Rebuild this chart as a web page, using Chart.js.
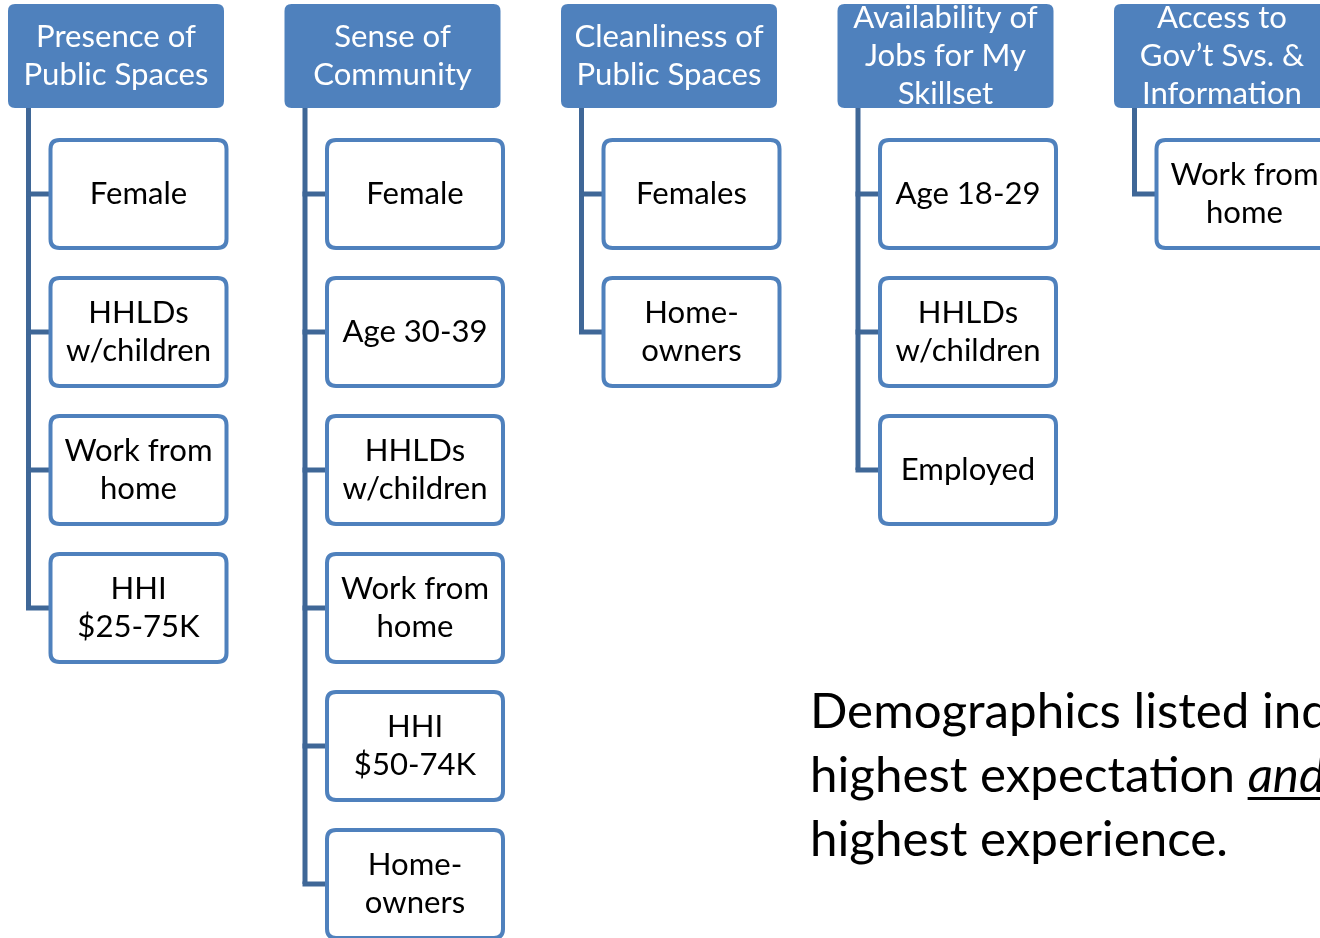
<!DOCTYPE html>
<html>
<head>
<meta charset="utf-8">
<script src="https://cdn.jsdelivr.net/npm/chart.js@4/dist/chart.umd.min.js"></script>
<style>
  html, body { margin: 0; padding: 0; background: #fff; overflow: hidden; }
  #tree { display: block; }
</style>
</head>
<body>
<canvas id="tree" width="1320" height="938"></canvas>
<script>
// Column headers (one per attribute)
const headers = [
  "Presence of\nPublic Spaces",
  "Sense of\nCommunity",
  "Cleanliness of\nPublic Spaces",
  "Availability of\nJobs for My\nSkillset",
  "Access to\nGov’t Svs. &\nInformation"
];

// Demographics under each header
const presenceItems = ["Female", "HHLDs\nw/children", "Work from\nhome", "HHI\n$25-75K"];
const communityItems = ["Female", "Age 30-39", "HHLDs\nw/children", "Work from\nhome", "HHI\n$50-74K", "Home-\nowners"];
const cleanlinessItems = ["Females", "Home-\nowners"];
const jobsItems = ["Age 18-29", "HHLDs\nw/children", "Employed"];
const govItems = ["Work from\nhome"];

const groups = [presenceItems, communityItems, cleanlinessItems, jobsItems, govItems];

const noteLines = ["Demographics listed indicate", "highest expectation and", "highest experience."];

const FONT = "Lato, 'Open Sans', sans-serif";
const BLUE = "#4f81bd";
const LINK = "#3f6797";

function rrect(ctx, x, y, w, h, r) {
  ctx.beginPath();
  ctx.moveTo(x + r, y);
  ctx.lineTo(x + w - r, y);
  ctx.quadraticCurveTo(x + w, y, x + w, y + r);
  ctx.lineTo(x + w, y + h - r);
  ctx.quadraticCurveTo(x + w, y + h, x + w - r, y + h);
  ctx.lineTo(x + r, y + h);
  ctx.quadraticCurveTo(x, y + h, x, y + h - r);
  ctx.lineTo(x, y + r);
  ctx.quadraticCurveTo(x, y, x + r, y);
  ctx.closePath();
}

function multiline(ctx, text, cx, cy, pitch) {
  const lines = text.split("\n");
  const top = cy - (lines.length - 1) * pitch / 2;
  lines.forEach((l, i) => ctx.fillText(l, cx, top + i * pitch));
}

// font size that makes a sample string a given width (the original used Calibri)
function fitSize(ctx, sample, width, style) {
  ctx.font = (style || "") + "100px " + FONT;
  return 100 * width / ctx.measureText(sample).width;
}

// draws the boxes and connectors at the point positions Chart.js computed
const treePlugin = {
  id: "tree",
  afterDatasetsDraw(chart) {
    const ctx = chart.ctx;
    ctx.save();
    const headSize = fitSize(ctx, "Presence of", 160);
    const boxSize = fitSize(ctx, "Work from", 148);
    const noteSize = fitSize(ctx, "highest experience.", 418);

    chart.data.datasets.forEach((ds, i) => {
      const pts = chart.getDatasetMeta(i).data;
      const head = pts[0];
      const last = pts[pts.length - 1];
      const lineX = head.x - 87.5;

      // connectors
      ctx.strokeStyle = LINK;
      ctx.lineWidth = 5;
      ctx.beginPath();
      ctx.moveTo(lineX, head.y + 52);
      ctx.lineTo(lineX, last.y);
      ctx.stroke();
      for (let k = 1; k < pts.length; k++) {
        ctx.beginPath();
        ctx.moveTo(lineX - 2.5, pts[k].y);
        ctx.lineTo(pts[k].x - 88, pts[k].y);
        ctx.stroke();
      }

      // header box
      ctx.fillStyle = BLUE;
      rrect(ctx, head.x - 108, head.y - 52, 216, 104, 7);
      ctx.fill();
      ctx.fillStyle = "#fff";
      ctx.font = headSize + "px " + FONT;
      ctx.textAlign = "center";
      ctx.textBaseline = "middle";
      multiline(ctx, ds.data[0].label, head.x, head.y, 38);

      // child boxes
      ctx.font = boxSize + "px " + FONT;
      for (let k = 1; k < pts.length; k++) {
        const p = pts[k];
        ctx.fillStyle = "#fff";
        ctx.strokeStyle = BLUE;
        ctx.lineWidth = 4;
        rrect(ctx, p.x - 88, p.y - 54, 176, 108, 9);
        ctx.fill();
        ctx.stroke();
        ctx.fillStyle = "#000";
        multiline(ctx, ds.data[k].label, p.x, p.y, 38);
      }
    });

    // note text
    ctx.fillStyle = "#000";
    ctx.textAlign = "left";
    ctx.textBaseline = "alphabetic";
    const nf = noteSize + "px " + FONT;
    ctx.font = nf;
    const nx = 810;
    ctx.fillText(noteLines[0], nx, 728);
    const part = "highest expectation ";
    ctx.fillText(part, nx, 792);
    const ax = nx + ctx.measureText(part).width;
    ctx.font = "italic " + nf;
    ctx.fillText("and", ax, 792);
    const aw = ctx.measureText("and").width;
    ctx.fillRect(ax, 797, aw, 3);
    ctx.font = nf;
    ctx.fillText(noteLines[2], nx, 856);
    ctx.restore();
  }
};

// column c -> x, row r -> y (header row 0, children 1..n)
const datasets = groups.map((items, c) => ({
  data: [{ x: c, y: 0, label: headers[c] }].concat(
    items.map((t, r) => ({ x: c + 0.0814, y: r + 1, label: t }))
  ),
  pointRadius: 0,
  showLine: false
}));

new Chart(document.getElementById("tree"), {
  type: "scatter",
  data: { datasets: datasets },
  options: {
    responsive: false,
    animation: false,
    layout: { padding: 0 },
    plugins: { legend: { display: false }, tooltip: { enabled: false } },
    scales: {
      x: { type: "linear", display: false, min: -116 / 276.5, max: (1320 - 116) / 276.5 },
      y: { type: "linear", display: false, reverse: true, min: -56 / 138, max: (938 - 56) / 138 }
    }
  },
  plugins: [treePlugin]
});
</script>
</body>
</html>
